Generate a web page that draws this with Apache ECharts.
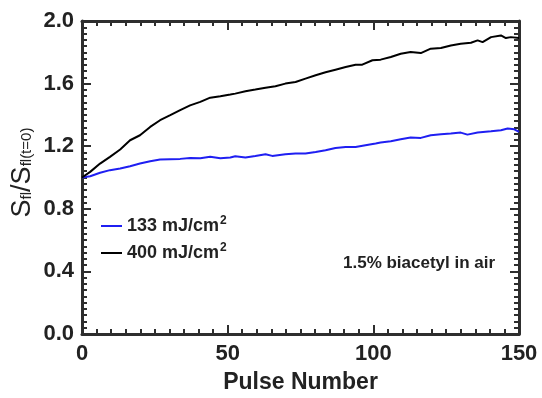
<!DOCTYPE html>
<html><head><meta charset="utf-8">
<script src="https://cdn.jsdelivr.net/npm/echarts@6/dist/echarts.min.js"></script>
<style>html,body{margin:0;padding:0;background:#fff}#c{width:542px;height:398px}</style>
</head><body><div id="c"></div>
<script>
// Pulse numbers and normalized fluorescence signal
const pulses133 = [0, 2.8, 6.2, 9.6, 13.1, 16.5, 19.9, 23.4, 26.8, 30.3, 33.7, 37.1, 40.6, 44, 47.5, 50.9, 52.6, 56.1, 59.5, 63, 65.3, 69.8, 73.3, 76.7, 80.2, 83.6, 87, 90.5, 93.9, 97.3, 100.8, 102.5, 106, 109.4, 112.8, 116.3, 119.7, 123.2, 126.6, 130, 132.3, 135.8, 140.4, 143.8, 146.1, 148.4, 150];
const signal133 = [1.0, 1.008, 1.03, 1.047, 1.057, 1.072, 1.089, 1.104, 1.115, 1.117, 1.119, 1.125, 1.123, 1.132, 1.123, 1.128, 1.136, 1.128, 1.138, 1.149, 1.138, 1.149, 1.153, 1.153, 1.163, 1.174, 1.189, 1.195, 1.195, 1.206, 1.217, 1.223, 1.232, 1.244, 1.255, 1.253, 1.27, 1.276, 1.281, 1.287, 1.274, 1.287, 1.295, 1.302, 1.313, 1.308, 1.291];
const pulses400 = [0, 2.8, 6.2, 9.6, 13.1, 16.5, 19.9, 23.4, 26.8, 30.3, 33.7, 37.1, 40.6, 44, 47.5, 50.9, 52.6, 56.1, 59.5, 63, 66.4, 69.8, 73.3, 76.7, 80.2, 83.6, 87, 90.5, 93.9, 96.2, 99.7, 102.5, 106, 109.4, 112.8, 116.3, 119.7, 123.2, 126.6, 130, 133.5, 135.8, 137.5, 140.4, 143.8, 145.5, 147.2, 150];
const signal400 = [1.0, 1.036, 1.089, 1.132, 1.179, 1.238, 1.27, 1.323, 1.366, 1.398, 1.43, 1.461, 1.483, 1.51, 1.519, 1.53, 1.536, 1.551, 1.562, 1.574, 1.583, 1.6, 1.61, 1.632, 1.653, 1.672, 1.689, 1.706, 1.721, 1.721, 1.749, 1.753, 1.77, 1.791, 1.802, 1.795, 1.823, 1.827, 1.844, 1.855, 1.861, 1.876, 1.865, 1.897, 1.908, 1.891, 1.897, 1.891];
const seriesNames = ['133 mJ/cm2', '400 mJ/cm2'];
const annotation = '1.5% biacetyl in air';
const xTitle = 'Pulse Number';

const axisCol = '#2e2e2e';
const txtCol = '#222';
const font = 'Liberation Sans, Arial, sans-serif';
const tickBase = () => ({
  axisLine: {show: true, onZero: false, lineStyle: {color: axisCol, width: 3}},
  axisTick: {show: true, inside: true, length: 9, lineStyle: {color: axisCol, width: 2}},
  minorTick: {show: true, splitNumber: 10, length: 5, lineStyle: {color: axisCol, width: 2}},
  splitLine: {show: false}
});
const zip = (xs, ys) => xs.map((x, i) => [x, ys[i]]);

const chart = echarts.init(document.getElementById('c'));
chart.setOption({
  animation: false,
  grid: {left: 82, right: 23, top: 21, bottom: 64, containLabel: false, outerBoundsMode: 'none'},
  legend: {
    orient: 'vertical', left: 96, top: 210, itemGap: 7,
    itemWidth: 21, itemHeight: 2, icon: 'rect',
    data: seriesNames,
    formatter: n => '{t|' + n.replace('2', '') + '}{s|2}',
    textStyle: {
      rich: {
        t: {fontFamily: font, fontWeight: 'bold', fontSize: 18, color: txtCol},
        s: {fontFamily: font, fontWeight: 'bold', fontSize: 12, color: txtCol, padding: [0, 0, 10, 1]}
      }
    }
  },
  xAxis: [
    Object.assign(tickBase(), {
      type: 'value', min: 0, max: 150, interval: 50, position: 'bottom',
      name: xTitle, nameLocation: 'middle', nameGap: 37, nameMoveOverlap: false,
      nameTextStyle: {fontFamily: font, fontWeight: 'bold', fontSize: 23, color: txtCol},
      axisLabel: {fontFamily: font, fontWeight: 'bold', fontSize: 22, color: txtCol, margin: 9}
    }),
    Object.assign(tickBase(), {
      type: 'value', min: 0, max: 150, interval: 50, position: 'top',
      axisLabel: {show: false}
    })
  ],
  yAxis: [
    Object.assign(tickBase(), {
      type: 'value', min: 0, max: 2.0, interval: 0.4, position: 'left',
      name: '{a|S}{b|fl}{a|/S}{b|fl(t=0)}', nameLocation: 'middle', nameGap: 46, nameMoveOverlap: false,
      nameTextStyle: {
        padding: [0, 0, 0, 10],
        rich: {
          a: {fontFamily: font, fontSize: 27, color: txtCol},
          b: {fontFamily: font, fontSize: 15, color: txtCol, padding: [8, 0, 0, 0]}
        }
      },
      axisLabel: {fontFamily: font, fontWeight: 'bold', fontSize: 22, color: txtCol, margin: 8,
        formatter: v => v.toFixed(1)}
    }),
    Object.assign(tickBase(), {
      type: 'value', min: 0, max: 2.0, interval: 0.4, position: 'right',
      axisLabel: {show: false}
    })
  ],
  graphic: [{
    type: 'text', left: 343, top: 255,
    style: {text: annotation, fontFamily: font, fontWeight: 'bold', fontSize: 17, fill: txtCol}
  }],
  series: [
    {name: seriesNames[0], type: 'line', data: zip(pulses133, signal133), showSymbol: false,
      lineStyle: {color: '#1f1ff2', width: 2}, itemStyle: {color: '#1f1ff2'}},
    {name: seriesNames[1], type: 'line', data: zip(pulses400, signal400), showSymbol: false,
      lineStyle: {color: '#000', width: 2}, itemStyle: {color: '#000'}}
  ]
});
</script></body></html>
